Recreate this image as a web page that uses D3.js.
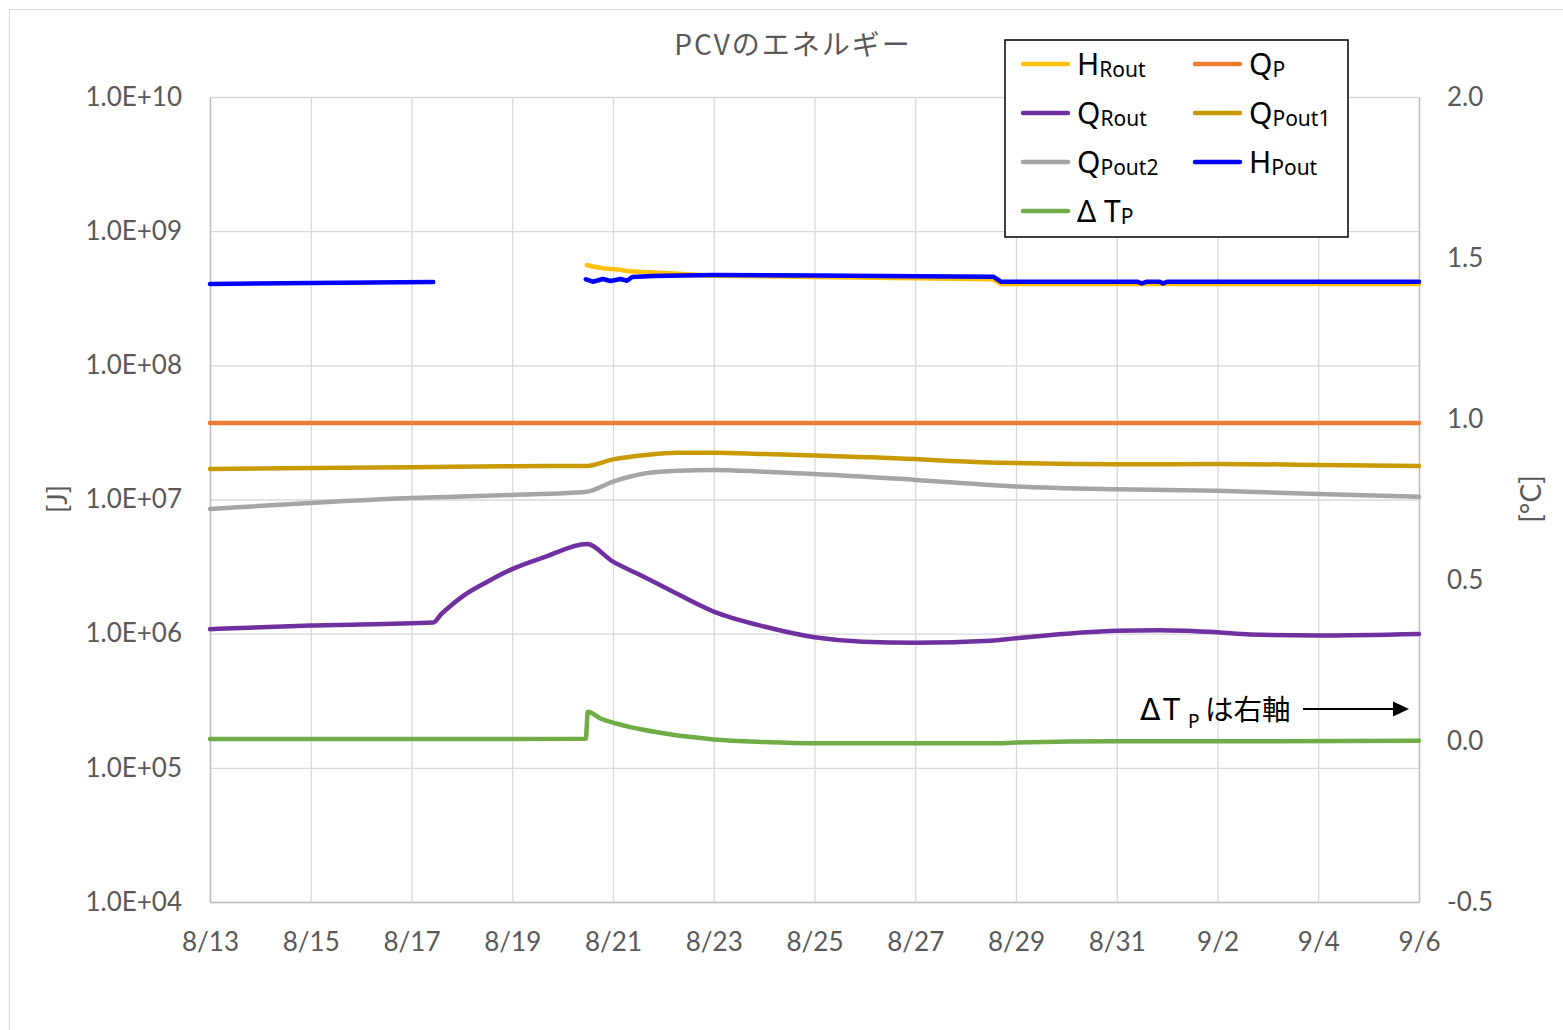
<!DOCTYPE html>
<html>
<head>
<meta charset="utf-8">
<script src="https://cdn.jsdelivr.net/npm/d3@7"></script>
<style>
  html, body { margin: 0; padding: 0; background: #ffffff; }
  svg { display: block; }
</style>
</head>
<body>
<svg id="chart" width="1563" height="1030"></svg>
<script>
// Elapsed days from 8/13 (day 0) to 9/6 (day 24)
const xTickDays   = [0, 2, 4, 6, 8, 10, 12, 14, 16, 18, 20, 22, 24];
const xTickLabels = ["8/13", "8/15", "8/17", "8/19", "8/21", "8/23", "8/25", "8/27", "8/29", "8/31", "9/2", "9/4", "9/6"];
const leftTicks   = [1e4, 1e5, 1e6, 1e7, 1e8, 1e9, 1e10];
const rightTicks  = [-0.5, 0.0, 0.5, 1.0, 1.5, 2.0];

// Energy series [J] as [day, value]; null marks a gap in the record
const hRout = [
  [7.48, 5.6e8], [7.6, 5.45e8], [7.8, 5.3e8], [7.95, 5.22e8], [8.15, 5.15e8], [8.3, 5.02e8],
  [9.0, 4.88e8], [10.0, 4.66e8], [12.0, 4.55e8], [14.0, 4.45e8], [15.55, 4.38e8],
  [15.7, 4.04e8], [18.0, 4.04e8], [21.0, 4.03e8], [24.0, 4.04e8]
];
const qP = [
  [0, 3.72e7], [24, 3.72e7]
];
const qRout = [
  [0, 1.08e6], [2, 1.15e6], [4.43, 1.21e6], [4.6, 1.41e6], [4.8, 1.64e6], [5.0, 1.88e6],
  [5.5, 2.43e6], [6.0, 3.03e6], [6.65, 3.73e6], [7.48, 4.66e6], [8.0, 3.44e6], [8.5, 2.78e6],
  [9.0, 2.24e6], [10.0, 1.46e6], [11.0, 1.13e6], [12.0, 9.4e5], [12.96, 8.71e5], [14.0, 8.57e5],
  [15.5, 8.87e5], [16.0, 9.24e5], [18.0, 1.05e6], [18.86, 1.06e6], [20.0, 1.023e6], [20.65, 9.85e5],
  [22.0, 9.7e5], [24.0, 9.95e5]
];
const qPout1 = [
  [0, 1.69e7], [4, 1.74e7], [6, 1.77e7], [7.48, 1.78e7], [8.0, 1.99e7], [8.65, 2.15e7],
  [9.3, 2.23e7], [10.0, 2.23e7], [11.0, 2.18e7], [12.0, 2.13e7], [14.0, 2.0e7], [14.7, 1.94e7],
  [16.0, 1.87e7], [17.1, 1.84e7], [18.0, 1.83e7], [20.0, 1.84e7], [22.0, 1.81e7], [24.0, 1.78e7]
];
const qPout2 = [
  [0, 8.5e6], [4, 1.026e7], [6, 1.08e7], [7.48, 1.143e7], [8.0, 1.358e7], [8.65, 1.567e7],
  [9.3, 1.64e7], [10.0, 1.66e7], [11.0, 1.61e7], [12.0, 1.55e7], [14.0, 1.40e7], [16.0, 1.25e7],
  [18.0, 1.19e7], [20.0, 1.16e7], [22.0, 1.10e7], [24.0, 1.05e7]
];
const hPout = [
  [0, 4.04e8], [2, 4.1e8], [4.43, 4.18e8], null,
  [7.46, 4.38e8], [7.6, 4.2e8], [7.8, 4.4e8], [7.95, 4.25e8], [8.15, 4.4e8], [8.28, 4.27e8],
  [8.38, 4.55e8], [8.8, 4.64e8], [10.0, 4.72e8], [12.0, 4.68e8], [14.0, 4.62e8], [15.55, 4.58e8],
  [15.7, 4.2e8], [18.4, 4.2e8], [18.5, 4.08e8], [18.6, 4.2e8], [18.85, 4.2e8], [18.92, 4.08e8],
  [19.0, 4.2e8], [24.0, 4.2e8]
];
// Temperature rise [°C], right axis
const dTP = [
  [0, 0.006], [4.43, 0.006], [7.46, 0.007], [7.5, 0.091], [7.75, 0.070], [8.0, 0.057],
  [8.5, 0.038], [9.0, 0.024], [9.5, 0.013], [10.0, 0.005], [11.0, -0.003], [12.0, -0.007],
  [14.0, -0.007], [15.5, -0.007], [16.0, -0.005], [18.0, -0.001], [20.0, -0.001], [24.0, 0.001]
];

const seriesNames  = ["HRout", "QP", "QRout", "QPout1", "QPout2", "HPout", "ΔTP"];
const seriesColors = ["#FFC000", "#ED7D31", "#7030A0", "#C99A00", "#A5A5A5", "#0000FF", "#70AD47"];
// series whose records are step-like keep straight segments; the rest are smoothed
const smoothed     = [false, false, true, true, true, false, true];

const svg = d3.select("#chart");
const W = 1563, H = 1030;
const plot = { left: 210, right: 1419, top: 97, bottom: 902 };

const x  = d3.scaleLinear().domain([0, 24]).range([plot.left, plot.right]);
const yL = d3.scaleLog().domain([1e4, 1e10]).range([plot.bottom, plot.top]);
const yR = d3.scaleLinear().domain([-0.5, 2.0]).range([plot.bottom, plot.top]);

const gray = "#595959";
const gridColor = "#D9D9D9";
const tickFont = "Lato, 'Open Sans', sans-serif";

// chart frame
svg.append("rect").attr("x", 9.5).attr("y", 9.5).attr("width", W + 20).attr("height", H + 20)
  .attr("fill", "#fff").attr("stroke", "#D9D9D9").attr("stroke-width", 1);

// gridlines
const grid = svg.append("g");
grid.append("g").attr("transform", `translate(${plot.left},0)`)
  .call(d3.axisLeft(yL).tickValues(leftTicks).tickSize(-(plot.right - plot.left)).tickFormat(""))
  .call(g => g.select(".domain").remove())
  .call(g => g.selectAll("line").attr("stroke", gridColor).attr("stroke-width", 1.3));
grid.append("g").attr("transform", `translate(0,${plot.bottom})`)
  .call(d3.axisBottom(x).tickValues(xTickDays).tickSize(-(plot.bottom - plot.top)).tickFormat(""))
  .call(g => g.select(".domain").remove())
  .call(g => g.selectAll("line").attr("stroke", gridColor).attr("stroke-width", 1.3));

// axes
const fmtLeft = v => "1.0E+" + String(Math.round(Math.log10(v))).padStart(2, "0");
const fmtRight = v => v.toFixed(1);
const axL = svg.append("g").attr("transform", `translate(${plot.left},0)`)
  .call(d3.axisLeft(yL).tickValues(leftTicks).tickFormat(fmtLeft).tickSize(0).tickPadding(28));
const axR = svg.append("g").attr("transform", `translate(${plot.right},0)`)
  .call(d3.axisRight(yR).tickValues(rightTicks).tickFormat(fmtRight).tickSize(0).tickPadding(28));
const axB = svg.append("g").attr("transform", `translate(0,${plot.bottom})`)
  .call(d3.axisBottom(x).tickValues(xTickDays).tickFormat((d, i) => xTickLabels[i]).tickSize(0).tickPadding(31));
[axL, axR, axB].forEach(a => {
  a.select(".domain").attr("stroke", "#BFBFBF").attr("stroke-width", 1.5);
  a.selectAll("text").attr("fill", gray).style("font-family", tickFont).style("font-size", "26px");
});

// series
const lineL = d3.line().defined(d => d !== null).x(d => x(d[0])).y(d => yL(d[1]));
const lineR = d3.line().defined(d => d !== null).x(d => x(d[0])).y(d => yR(d[1]));
const leftSeries = [hRout, qP, qRout, qPout1, qPout2, hPout];
const lines = svg.append("g").attr("fill", "none").attr("stroke-width", 4.5)
  .attr("stroke-linejoin", "round").attr("stroke-linecap", "round");
leftSeries.forEach((s, i) => {
  lineL.curve(smoothed[i] ? d3.curveMonotoneX : d3.curveLinear);
  lines.append("path").datum(s).attr("d", lineL).attr("stroke", seriesColors[i]);
});
lineR.curve(d3.curveMonotoneX);
lines.append("path").datum(dTP).attr("d", lineR).attr("stroke", seriesColors[6]);

// title
svg.append("text").attr("x", 793).attr("y", 55).attr("text-anchor", "middle")
  .attr("fill", gray).style("font-family", "'Noto Sans CJK JP', sans-serif").style("font-size", "28px")
  .style("letter-spacing", "2px")
  .text("PCVのエネルギー");

// axis titles
svg.append("text").attr("transform", "translate(67,499) rotate(-90)").attr("text-anchor", "middle")
  .attr("fill", gray).style("font-family", tickFont).style("font-size", "27px").text("[J]");
svg.append("text").attr("transform", "translate(1541,499) rotate(-90)").attr("text-anchor", "middle")
  .attr("fill", gray).style("font-family", tickFont).style("font-size", "28px").text("[°C]");

// legend
const legend = svg.append("g");
legend.append("rect").attr("x", 1005).attr("y", 40).attr("width", 343).attr("height", 197)
  .attr("fill", "#fff").attr("stroke", "#000").attr("stroke-width", 1.5);
const legMain = [["H", "Rout"], ["Q", "P"], ["Q", "Rout"], ["Q", "Pout1"], ["Q", "Pout2"], ["H", "Pout"], ["Δ T", "P"]];
legMain.forEach((lab, i) => {
  const col = i % 2, row = Math.floor(i / 2);
  const lx = col === 0 ? 1023 : 1195;
  const ly = 64 + row * 49;
  legend.append("line").attr("x1", lx).attr("x2", lx + 45).attr("y1", ly).attr("y2", ly)
    .attr("stroke", seriesColors[i]).attr("stroke-width", 4.5).attr("stroke-linecap", "round");
  const t = legend.append("text").attr("x", lx + 54).attr("y", ly + 11).attr("fill", "#000")
    .style("font-family", "'Noto Sans', sans-serif");
  t.append("tspan").style("font-size", "30px").text(lab[0]);
  t.append("tspan").style("font-size", "21px").attr("dy", 2).text(lab[1]);
});

// note pointing to the right axis: "ΔT_P は右軸"
const note = svg.append("g").attr("fill", "#000");
note.append("text").attr("x", 1140).attr("y", 720)
  .style("font-family", "'DejaVu Sans', sans-serif").style("font-size", "30px").text("Δ");
note.append("text").attr("x", 1163).attr("y", 720)
  .style("font-family", "'Noto Sans', sans-serif").style("font-size", "31px").text("T");
note.append("text").attr("x", 1188).attr("y", 728)
  .style("font-family", "'Noto Sans', sans-serif").style("font-size", "19px").text("P");
note.append("text").attr("x", 1205).attr("y", 720)
  .style("font-family", "'Noto Sans CJK JP', sans-serif").style("font-size", "28.5px").text("は右軸");
svg.append("line").attr("x1", 1303).attr("x2", 1396).attr("y1", 709).attr("y2", 709)
  .attr("stroke", "#000").attr("stroke-width", 2);
svg.append("path").attr("d", "M1409,709 L1393,701.5 L1393,716.5 Z").attr("fill", "#000");
</script>
</body>
</html>
